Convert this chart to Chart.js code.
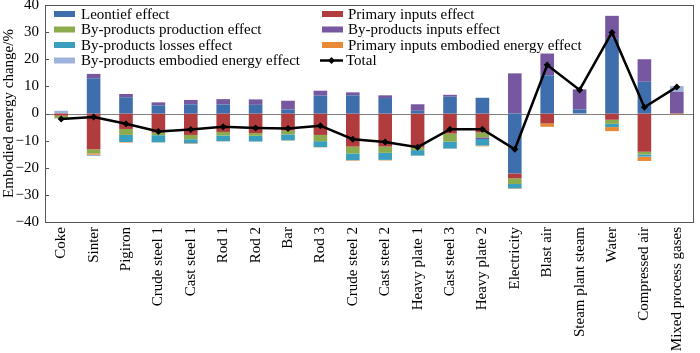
<!DOCTYPE html>
<html><head><meta charset="utf-8">
<script src="https://cdn.jsdelivr.net/npm/chart.js@4"></script>
<style>html,body{margin:0;padding:0;background:#fff}#wrap{width:700px;height:353px}</style>
</head><body><div id="wrap"><canvas id="c"></canvas></div>
<script>
const categories = ["Coke","Sinter","Pigiron","Crude steel 1","Cast steel 1","Rod 1","Rod 2","Bar","Rod 3","Crude steel 2","Cast steel 2","Heavy plate 1","Cast steel 3","Heavy plate 2","Electricity","Blast air","Steam plant steam","Water","Compressed air","Mixed process gases"];
const leontief        = [0, 13.0, 6.0, 3.0, 3.4, 3.3, 3.2, 1.5, 6.6, 6.7, 5.7, 1.0, 6.2, 5.8, -22.1, 14.1, 1.5, 27.7, 11.7, 0];
const primaryInputs   = [-0.8, -13.2, -5.7, -7.1, -7.9, -6.8, -7.2, -6.3, -7.9, -12.2, -12.2, -12.5, -7.4, -7.0, -1.8, -3.7, 0, -2.3, -14.1, 0];
const bpProduction    = [-1.0, -1.5, -2.2, -0.9, -1.6, -1.3, -1.0, -1.4, -2.3, -2.5, -2.3, -1.0, -3.0, -1.8, -2.1, 0, 0, -1.5, -1.0, 0];
const bpInputs        = [0, 1.6, 1.2, 1.1, 1.6, 2.0, 2.0, 3.2, 1.8, 1.1, 1.0, 2.4, 0.7, -0.6, 14.8, 8.0, 7.4, 8.3, 8.3, 8.0];
const bpLosses        = [0, 0, -2.6, -2.6, -1.5, -2.1, -2.1, -2.2, -2.2, -2.5, -2.6, -2.0, -2.5, -2.4, -1.6, 0, 0, -1.2, -0.8, 0];
const piEmbodied      = [0, -0.5, -0.2, -0.1, -0.2, -0.1, -0.1, -0.1, -0.1, -0.2, -0.2, -0.1, -0.1, -0.3, -0.2, -1.2, 0, -1.5, -1.6, -0.3];
const bpEmbodied      = [1.0, -0.5, 0, 0, 0, 0, 0, 0, 0, 0, 0, 0, 0, 0, 0, 0, 0, 0, 0, 2.1];
const total           = [-2.0, -1.3, -3.8, -6.6, -5.9, -4.9, -5.3, -5.5, -4.5, -9.5, -10.5, -12.4, -5.8, -5.8, -13.2, 17.9, 8.7, 29.9, 2.3, 9.8];
const yTicks          = [-40, -30, -20, -10, 0, 10, 20, 30, 40];

const FONT = "Liberation Serif";
const series = [
  {label:"Leontief effect", data:leontief, color:"#3e6eab"},
  {label:"Primary inputs effect", data:primaryInputs, color:"#b03c3e"},
  {label:"By-products production effect", data:bpProduction, color:"#8cab4c"},
  {label:"By-products inputs effect", data:bpInputs, color:"#7657a0"},
  {label:"By-products losses effect", data:bpLosses, color:"#3a9ebf"},
  {label:"Primary inputs embodied energy effect", data:piEmbodied, color:"#e88a35"},
  {label:"By-products embodied energy effect", data:bpEmbodied, color:"#9db3dc"}
];
const datasets = series.map(s => ({
  type:"bar", label:s.label, data:s.data, backgroundColor:s.color, borderWidth:0,
  stack:"a", order:1, barPercentage:0.84, categoryPercentage:0.5
}));
datasets.push({
  type:"line", label:"Total", data:total, stack:"t", order:0,
  borderColor:"#000", backgroundColor:"#000", borderWidth:2.5,
  pointStyle:"rectRot", pointRadius:3.5, pointBackgroundColor:"#000", pointBorderWidth:0, tension:0
});

const decor = {
  id:"decor",
  beforeDatasetsDraw(chart){
    const {ctx, chartArea:a, scales:{y}} = chart;
    const y0 = y.getPixelForValue(0);
    ctx.save(); ctx.strokeStyle="#808080"; ctx.lineWidth=1;
    ctx.beginPath(); ctx.moveTo(a.left, Math.round(y0)+0.5); ctx.lineTo(a.right, Math.round(y0)+0.5); ctx.stroke();
    ctx.restore();
  },
  afterDraw(chart){
    const {ctx, chartArea:a, scales:{y}} = chart;
    ctx.save();
    ctx.strokeStyle="#555"; ctx.lineWidth=1;
    ctx.strokeRect(Math.round(a.left)+0.5, Math.round(a.top)+0.5, Math.round(a.right-a.left), Math.round(a.bottom-a.top));
    ctx.beginPath();
    yTicks.forEach(v=>{const py=Math.round(y.getPixelForValue(v))+0.5; ctx.moveTo(a.left, py); ctx.lineTo(a.left+4, py);});
    ctx.stroke();
    // legend
    ctx.font = "15px '"+FONT+"'"; ctx.fillStyle="#000"; ctx.textBaseline="middle";
    const cols=[{sx:54, tx:81},{sx:322, tx:348}];
    const rows=[14,29.5,45,60.5];
    const items=[0,2,4,6,1,3,5,7];
    items.forEach((di,k)=>{
      const c=cols[k<4?0:1], r=rows[k%4];
      const ds=chart.data.datasets[di];
      if(di<7){ ctx.fillStyle=ds.backgroundColor; ctx.fillRect(c.sx, r-3, 21, 6); }
      else {
        ctx.strokeStyle="#000"; ctx.lineWidth=2.5; ctx.beginPath(); ctx.moveTo(c.sx-2, r); ctx.lineTo(c.sx+21, r); ctx.stroke();
        ctx.fillStyle="#000"; ctx.beginPath(); const cx=c.sx+9.5; ctx.moveTo(cx, r-3.5); ctx.lineTo(cx+3.5, r); ctx.lineTo(cx, r+3.5); ctx.lineTo(cx-3.5, r); ctx.closePath(); ctx.fill();
      }
      ctx.fillStyle="#000"; ctx.fillText(ds.label, c.tx - (di===7?2:0), r+1);
    });
    ctx.restore();
  }
};

new Chart(document.getElementById("c"), {
  data:{labels:categories, datasets},
  options:{
    responsive:true, maintainAspectRatio:false, animation:false,
    layout:{padding:{top:5, right:7, left:0, bottom:0}},
    plugins:{legend:{display:false}, tooltip:{enabled:false}},
    scales:{
      x:{
        stacked:true, grid:{display:false, drawTicks:false}, border:{display:false},
        ticks:{color:"#000", font:{family:FONT, size:15}, minRotation:90, maxRotation:90, autoSkip:false, padding:5},
        afterFit(s){ s.height = 131; s.paddingLeft=0; s.paddingRight=0; }
      },
      y:{
        stacked:true, min:-40, max:40, grid:{display:false, drawTicks:false}, border:{display:false},
        ticks:{stepSize:10, color:"#000", font:{family:FONT, size:15}, padding:6,
               callback:(v)=> (v<0 ? "\u2212"+Math.abs(v) : String(v))},
        title:{display:true, text:"Embodied energy change/%", color:"#000", font:{family:FONT, size:15}, padding:{top:0,bottom:0}},
        afterFit(s){ s.width = 45; s.paddingTop=0; s.paddingBottom=0; }
      }
    }
  },
  plugins:[decor]
});
</script>
</body></html>
